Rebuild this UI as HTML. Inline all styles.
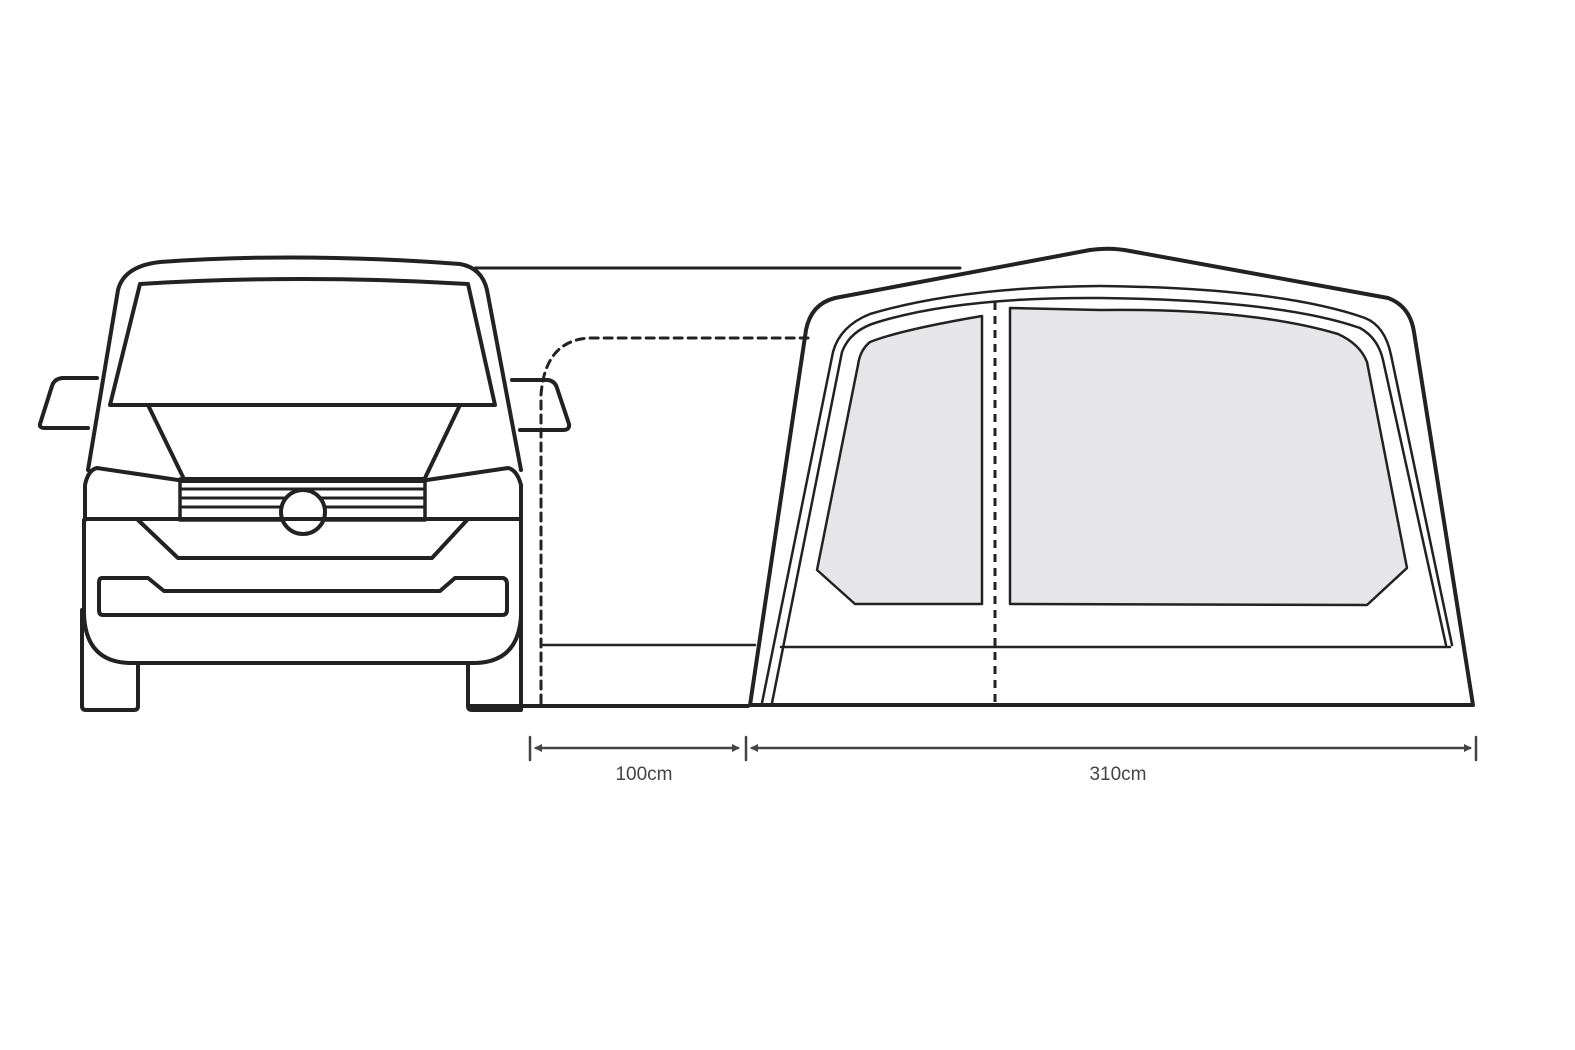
<!DOCTYPE html>
<html><head><style>html,body{margin:0;padding:0;background:#fff}svg{display:block}</style></head>
<body>
<svg width="1575" height="1050" viewBox="0 0 1575 1050" xmlns="http://www.w3.org/2000/svg">
<g fill="none" stroke="#222" stroke-width="4" stroke-linejoin="round" stroke-linecap="round">
<!-- awning -->
<line x1="475" y1="268" x2="960" y2="268" stroke-width="3"/>
<path d="M541,703 L541,395 Q545,340 590,338 L808,338" stroke-width="3" stroke-dasharray="8,6"/>
<line x1="543" y1="645" x2="755" y2="645" stroke-width="2.5"/>
<line x1="470" y1="706" x2="748" y2="706" stroke-width="4"/>
<!-- van -->
<path d="M88,470 L118,290 Q124,266 160,262 Q300,252 460,264 Q482,268 487,290 L521,470"/>
<path d="M97,378 L62,378 Q54,379 52,386 L40,424 Q39,428 45,428 L88,428"/>
<path d="M512,380 L548,380 Q555,381 557,388 L569,424 Q570,430 563,430 L520,430"/>
<path d="M110,405 L140,284 Q300,274 468,284 L495,405 Z"/>
<path d="M148,405 L183,477 M460,405 L425,478"/>
<path d="M85,520 L85,485 Q88,470 97,468 L178,480 M521,520 L521,485 Q517,470 508,468 L427,480"/>
<path d="M84,520 L84,615 Q86,662 130,663 L475,663 Q519,662 521,615 L521,520"/>
<rect x="180" y="479" width="245" height="41" stroke-width="3.5"/>
<path d="M182,489 H423 M182,498 H423 M182,507 H423" stroke-width="3"/>
<line x1="182" y1="480" x2="423" y2="480" stroke-width="6"/>
<circle cx="303" cy="512" r="22" fill="#fff"/>
<path d="M86,519 L180,519 M425,519 L520,519"/>
<path d="M137,519 L468,519 L432,558 L178,558 Z" fill="none"/>
<path d="M102,578 L148,578 L164,591 L440,591 L455,578 L503,578 Q507,579 507,584 L507,610 Q507,615 502,615 L103,615 Q99,615 99,610 L99,583 Q99,578 102,578 Z"/>
<path d="M82,610 L82,706 Q82,710 86,710 L134,710 Q138,710 138,706 L138,664"/>
<path d="M468,664 L468,706 Q468,710 472,710 L521,710 L521,610"/>
<!-- tent -->
<path d="M750,705 L806,330 Q811,304 835,298 L1090,250 Q1110,247 1130,251 L1388,298 Q1410,306 1414,332 L1473,705 Z"/>
<path d="M762,703 L833,352 Q840,326 870,314 Q960,287 1100,286 Q1280,288 1365,318 Q1385,326 1391,355 L1452,645" stroke-width="2.5"/>
<path d="M772,703 L842,352 Q850,330 878,322 Q960,297 1100,298 Q1280,300 1360,328 Q1378,338 1383,360 L1446,645" stroke-width="2.5"/>
<path d="M817,570 L855,604 L982,604 L982,316 Q900,330 870,342 Q860,350 858,365 Z" fill="#e6e6e8" stroke-width="2.5"/>
<path d="M1010,604 L1367,605 L1407,568 L1367,362 Q1360,344 1338,334 Q1250,308 1100,310 L1010,308 Z" fill="#e6e6e8" stroke-width="2.5"/>
<line x1="781" y1="647" x2="1450" y2="647" stroke-width="2.5"/>
<line x1="995" y1="302" x2="995" y2="704" stroke-width="3" stroke-dasharray="8,6" stroke-linecap="butt"/>
<!-- dims -->
<g stroke="#444" stroke-width="2.5">
<line x1="530" y1="737" x2="530" y2="760"/>
<line x1="746" y1="737" x2="746" y2="760"/>
<line x1="1476" y1="737" x2="1476" y2="760"/>
<line x1="536" y1="748" x2="738" y2="748"/>
<line x1="752" y1="748" x2="1470" y2="748"/>
</g>
<g fill="#444" stroke="none">
<path d="M534,748 L542,744 L542,752 Z"/><path d="M740,748 L732,744 L732,752 Z"/>
<path d="M750,748 L758,744 L758,752 Z"/><path d="M1472,748 L1464,744 L1464,752 Z"/>
</g>
</g>
<g font-family="Liberation Sans, sans-serif" font-size="19" fill="#444" text-anchor="middle">
<text x="644" y="780">100cm</text>
<text x="1118" y="780">310cm</text>
</g>
</svg>
</body></html>
